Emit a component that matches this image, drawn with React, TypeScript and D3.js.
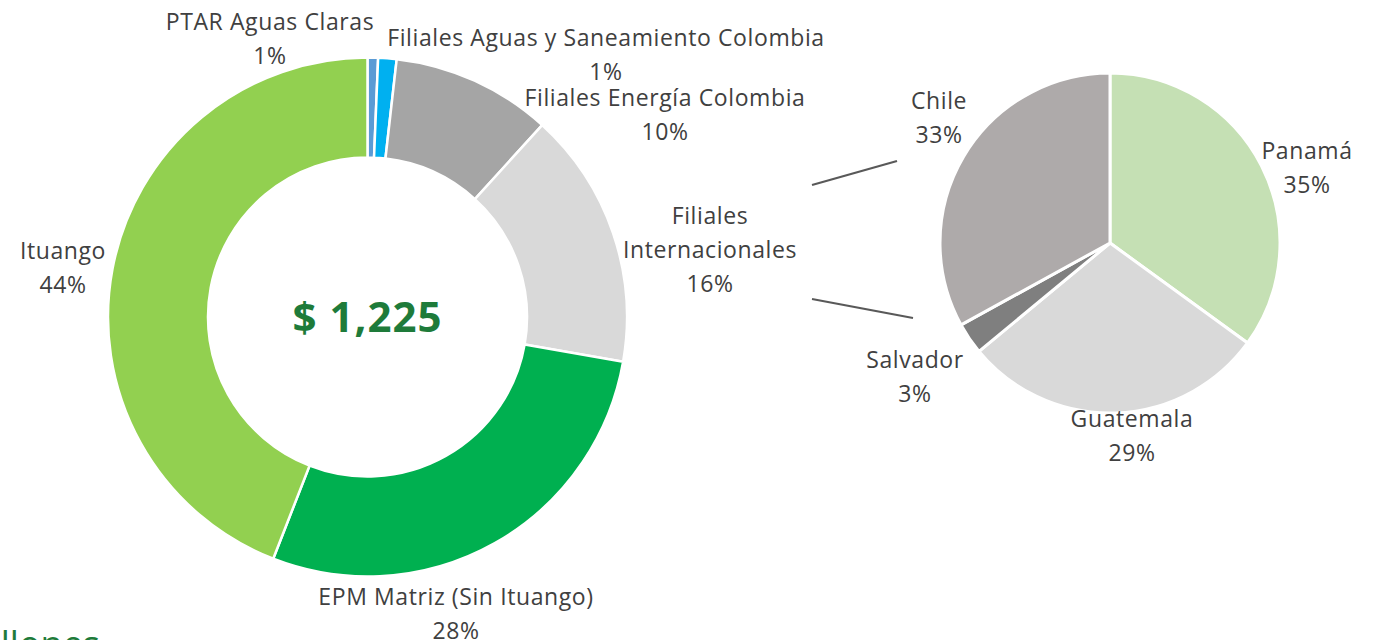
import React from 'react';
import * as d3 from 'd3';

// Inversión por negocio (millones) - donut
const segments = [
  'PTAR Aguas Claras',
  'Filiales Aguas y Saneamiento Colombia',
  'Filiales Energía Colombia',
  'Filiales Internacionales',
  'EPM Matriz (Sin Ituango)',
  'Ituango',
];
const segmentValues = [8, 14, 122, 196, 345, 540];
const segmentColors = ['#5B9BD5', '#00B0F0', '#A5A5A5', '#D9D9D9', '#00B050', '#92D050'];

// Filiales internacionales - pie
const countries = ['Panamá', 'Guatemala', 'Salvador', 'Chile'];
const countryValues = [35, 29, 3, 33];
const countryColors = ['#C5E0B4', '#D9D9D9', '#7F7F7F', '#AEAAAA'];

const totalLabel = '$ 1,225';

// label anchor (x, first baseline) for each slice
const segmentLabelPos: [number, number][] = [
  [270, 30],
  [606, 46],
  [665, 106],
  [710, 224],
  [456, 605],
  [63, 259],
];
const countryLabelPos: [number, number][] = [
  [1307, 159],
  [1132, 427],
  [915, 368],
  [939, 109],
];

const FONT = '"Open Sans", "Noto Sans", sans-serif';
const TEXT = '#404040';
const LINE_H = 34;
const LABEL_SIZE = 23;
const LABEL_SPACING = 0.6;

function labelLines(name: string, pct: number): string[] {
  if (name === 'Filiales Internacionales') return ['Filiales', 'Internacionales', `${pct}%`];
  return [name, `${pct}%`];
}

export default function App() {
  const donut = { cx: 367.5, cy: 317, r0: 159.5, r1: 259.5 };
  const pieC = { cx: 1110, cy: 243, r: 170 };

  const pieGen = d3.pie<number>().sort(null).value(d => d);
  const donutArcs = pieGen(segmentValues);
  const countryArcs = pieGen(countryValues);

  const donutArc = d3.arc<d3.PieArcDatum<number>>()
    .innerRadius(donut.r0)
    .outerRadius(donut.r1);
  const pieArc = d3.arc<d3.PieArcDatum<number>>()
    .innerRadius(0)
    .outerRadius(pieC.r);

  const total = d3.sum(segmentValues);
  const countryTotal = d3.sum(countryValues);

  return (
    <svg width={1376} height={640} style={{ position: 'absolute', left: 0, top: 0, background: '#fff' }}
      fontFamily={FONT}>
      <g transform={`translate(${donut.cx},${donut.cy})`}>
        {donutArcs.map((a, i) => (
          <path key={i} d={donutArc(a) ?? ''} fill={segmentColors[i]} stroke="#fff" strokeWidth={2.5} />
        ))}
        <text x={0} y={0} dy="0.36em" textAnchor="middle" fontSize={42} fontWeight={700}
          fill="#1E7B3A" letterSpacing={1}>
          {totalLabel}
        </text>
      </g>

      <g transform={`translate(${pieC.cx},${pieC.cy})`}>
        {countryArcs.map((a, i) => (
          <path key={i} d={pieArc(a) ?? ''} fill={countryColors[i]} stroke="#fff" strokeWidth={3} />
        ))}
      </g>

      {/* connector lines */}
      <line x1={812} y1={185} x2={897} y2={161} stroke="#595959" strokeWidth={2.2} />
      <line x1={812} y1={299} x2={913} y2={318} stroke="#595959" strokeWidth={2.2} />

      {segments.map((name, i) => {
        const pct = Math.round((segmentValues[i] / total) * 100);
        const [x, y] = segmentLabelPos[i];
        return (
          <text key={name} x={x} y={y} textAnchor="middle" fontSize={LABEL_SIZE} fill={TEXT}
            letterSpacing={LABEL_SPACING}>
            {labelLines(name, pct).map((t, j) => (
              <tspan key={j} x={x} y={y + j * LINE_H}>{t}</tspan>
            ))}
          </text>
        );
      })}

      {countries.map((name, i) => {
        const pct = Math.round((countryValues[i] / countryTotal) * 100);
        const [x, y] = countryLabelPos[i];
        return (
          <text key={name} x={x} y={y} textAnchor="middle" fontSize={LABEL_SIZE} fill={TEXT}
            letterSpacing={LABEL_SPACING}>
            <tspan x={x} y={y}>{name}</tspan>
            <tspan x={x} y={y + LINE_H}>{`${pct}%`}</tspan>
          </text>
        );
      })}

      <text x={100} y={657} textAnchor="end" fontSize={36} fill="#1E7B3A">Millones</text>
    </svg>
  );
}
